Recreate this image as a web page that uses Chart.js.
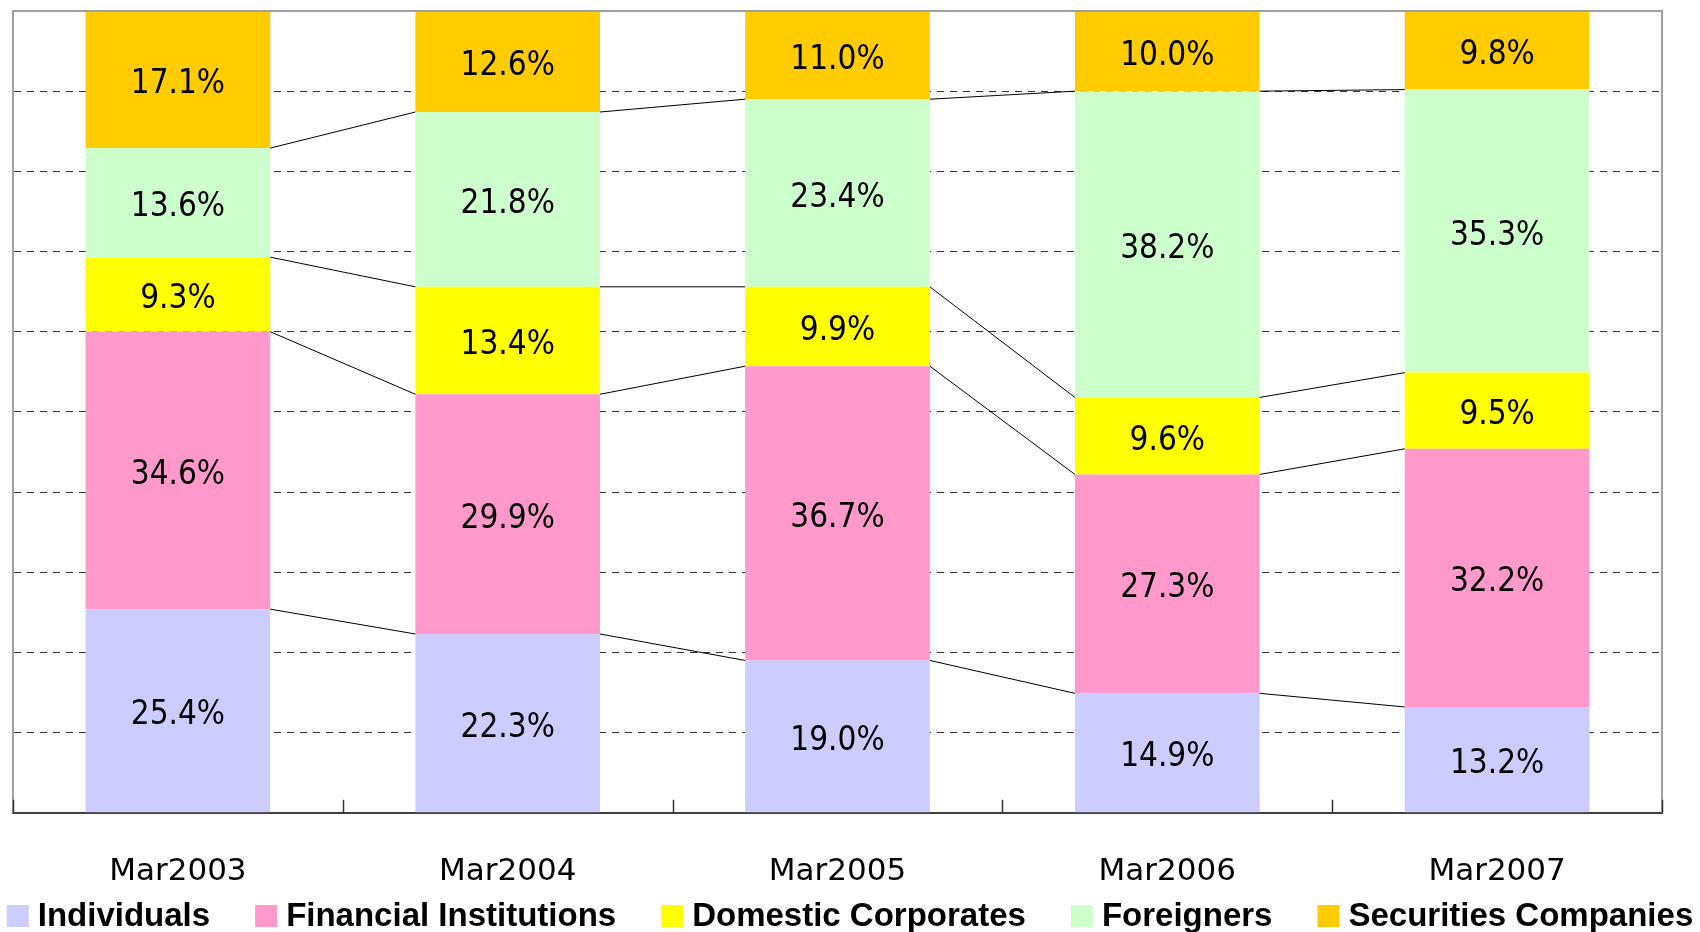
<!DOCTYPE html>
<html>
<head>
<meta charset="utf-8">
<script src="https://cdn.jsdelivr.net/npm/chart.js@4.4.1/dist/chart.umd.min.js"></script>
<style>
  html, body { margin: 0; padding: 0; background: #fff; }
  #wrap { width: 1700px; height: 932px; position: relative; }
</style>
</head>
<body>
<div id="wrap"><canvas id="holdersChart"></canvas></div>
<script>
// shareholder mix, % of total, March of each year
const periods = ["Mar2003", "Mar2004", "Mar2005", "Mar2006", "Mar2007"];
const individuals = [25.4, 22.3, 19.0, 14.9, 13.2];
const financialInstitutions = [34.6, 29.9, 36.7, 27.3, 32.2];
const domesticCorporates = [9.3, 13.4, 9.9, 9.6, 9.5];
const foreigners = [13.6, 21.8, 23.4, 38.2, 35.3];
const securitiesCompanies = [17.1, 12.6, 11.0, 10.0, 9.8];

const seriesNames = ["Individuals", "Financial Institutions", "Domestic Corporates", "Foreigners", "Securities Companies"];
const seriesColors = ["#CCCCFF", "#FF99CC", "#FFFF00", "#CCFFCC", "#FFCC00"];
const seriesValues = [individuals, financialInstitutions, domesticCorporates, foreigners, securitiesCompanies];

const valueFont = "33px 'DejaVu Sans Condensed', 'Open Sans', sans-serif";
const legendFont = "bold 33px 'Liberation Sans', Arial, sans-serif";

// frame round the plot area + little inside tick marks between categories
const framePlugin = {
    id: "frame",
    afterDraw(chart) {
        const { ctx, chartArea: a, scales: { x } } = chart;
        ctx.save();
        ctx.strokeStyle = "#a0a0a0";
        ctx.lineWidth = 2;
        ctx.beginPath();
        ctx.moveTo(a.left, a.top);
        ctx.lineTo(a.right, a.top);
        ctx.lineTo(a.right, a.bottom);
        ctx.stroke();

        ctx.strokeStyle = "#333";
        ctx.lineWidth = 1.5;
        const step = x.getPixelForValue(1) - x.getPixelForValue(0);
        for (let i = 0; i <= periods.length; i++) {
            const px = Math.round(x.getPixelForValue(i) - step / 2) + 0.5;
            ctx.beginPath();
            ctx.moveTo(px, a.bottom);
            ctx.lineTo(px, a.bottom - 13);
            ctx.stroke();
        }
        ctx.restore();
    }
};

// connector lines between stacks + value labels in segments
const stackPlugin = {
    id: "stackLines",
    afterDatasetsDraw(chart) {
        const ctx = chart.ctx;
        ctx.save();
        ctx.strokeStyle = "#000";
        ctx.lineWidth = 1;
        for (let d = 0; d < chart.data.datasets.length - 1; d++) {
            const bars = chart.getDatasetMeta(d).data;
            for (let i = 0; i < bars.length - 1; i++) {
                const a = bars[i], b = bars[i + 1];
                ctx.beginPath();
                ctx.moveTo(a.x + a.width / 2, a.y);
                ctx.lineTo(b.x - b.width / 2, b.y);
                ctx.stroke();
            }
        }
        ctx.fillStyle = "#000";
        ctx.font = valueFont;
        ctx.textAlign = "center";
        ctx.textBaseline = "middle";
        chart.data.datasets.forEach((ds, d) => {
            chart.getDatasetMeta(d).data.forEach((bar, i) => {
                ctx.fillText(ds.data[i].toFixed(1) + "%", bar.x, (bar.y + bar.base) / 2 + 5);
            });
        });
        ctx.restore();
    }
};

// legend drawn by hand so it stays on one line like the original
const legendPlugin = {
    id: "bottomLegend",
    afterDraw(chart) {
        const ctx = chart.ctx;
        const box = 22, gapText = 9, gapItem = 45;
        ctx.save();
        ctx.font = legendFont;
        const widths = chart.data.datasets.map(ds => ctx.measureText(ds.label).width);
        let total = widths.reduce((s, w) => s + box + gapText + w, 0) + gapItem * (widths.length - 1);
        let cx = (chart.width - total) / 2;
        const baseY = 926;
        ctx.textBaseline = "alphabetic";
        ctx.textAlign = "left";
        chart.data.datasets.forEach((ds, i) => {
            ctx.fillStyle = ds.backgroundColor;
            ctx.fillRect(cx, baseY - 21, box, box);
            ctx.fillStyle = "#000";
            ctx.fillText(ds.label, cx + box + gapText, baseY);
            cx += box + gapText + widths[i] + gapItem;
        });
        ctx.restore();
    }
};

new Chart(document.getElementById("holdersChart"), {
    type: "bar",
    data: {
        labels: periods,
        datasets: seriesNames.map((name, i) => ({
            label: name,
            data: seriesValues[i],
            backgroundColor: seriesColors[i],
            borderWidth: 0,
            categoryPercentage: 1,
            barPercentage: 0.56
        }))
    },
    options: {
        responsive: true,
        maintainAspectRatio: false,
        animation: false,
        layout: { padding: { left: 13, right: 38, top: 11, bottom: 0 } },
        plugins: {
            legend: { display: false },
            tooltip: { enabled: false }
        },
        scales: {
            x: {
                stacked: true,
                grid: { display: false, drawTicks: false },
                border: { display: true, color: "#404040", width: 2 },
                ticks: {
                    color: "#000",
                    padding: 41,
                    font: { family: "'DejaVu Sans', sans-serif", size: 31 }
                }
            },
            y: {
                stacked: true,
                min: 0,
                max: 100,
                ticks: { display: false, stepSize: 10 },
                grid: {
                    drawTicks: false,
                    lineWidth: 1,
                    color: c => (c.tick && (c.tick.value === 0 || c.tick.value === 100)) ? "rgba(0,0,0,0)" : "#333"
                },
                border: { display: true, color: "#a0a0a0", width: 2, dash: [7, 6] }
            }
        }
    },
    plugins: [framePlugin, stackPlugin, legendPlugin]
});
</script>
</body>
</html>
